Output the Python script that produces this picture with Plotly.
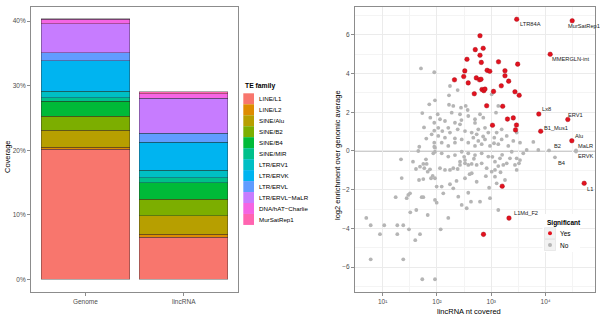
import math
import plotly.graph_objects as go

W, H = 600, 319
FONT = "Liberation Sans, Arial, Helvetica, sans-serif"

# ---------------- Left panel data: stacked coverage (%) ----------------
samples = ["Genome", "lincRNA"]
te_families = ["LINE/L1", "LINE/L2", "SINE/Alu", "SINE/B2", "SINE/B4", "SINE/MIR",
               "LTR/ERV1", "LTR/ERVK", "LTR/ERVL", "LTR/ERVL\u2212MaLR",
               "DNA/hAT\u2212Charlie", "MurSatRep1"]
te_colors = ["#F8766D", "#DE8C00", "#B79F00", "#7CAE00", "#00BA38", "#00C08B",
             "#00BFC4", "#00B4F0", "#619CFF", "#C77CFF", "#F564E3", "#FF64B0"]
genome_cov = [20.13, 0.36, 2.59, 2.22, 2.33, 0.47, 1.08, 4.66, 1.30, 4.50, 0.65, 0.12]
lincrna_cov = [6.52, 0.47, 2.89, 2.54, 2.53, 0.78, 1.19, 4.35, 1.39, 5.39, 0.67, 0.31]
cov_ticks = [0, 10, 20, 30, 40]
cov_ticktext = ["0%", "10%", "20%", "30%", "40%"]

# ---------------- Right panel data: log10(nt covered), log2 enrichment ----------------
sig_log10_nt = [2.792, 2.705, 2.851, 2.792, 2.552, 2.816, 3.133, 3.486, 2.512, 2.924,
                2.972, 3.252, 2.492, 2.724, 2.783, 2.810, 3.252, 2.575, 2.322, 3.320,
                3.184, 2.829, 2.862, 2.884, 3.041, 2.687, 3.436, 3.514, 2.915, 3.210,
                3.298, 3.405, 3.022, 3.464, 3.446, 3.201, 2.856]
sig_log2_enr = [5.96, 5.24, 5.31, 4.95, 4.74, 4.58, 4.61, 4.49, 4.14, 4.17,
                4.12, 4.15, 3.85, 3.78, 3.68, 3.71, 3.89, 3.52, 3.68, 3.61,
                3.37, 3.18, 3.12, 3.20, 3.08, 2.96, 3.06, 2.88, 2.34, 2.31,
                1.65, 1.71, 1.33, 1.34, 1.09, -1.82, -4.31]

ns_log10_nt = [1.705, 1.950, 1.858, 1.963, 1.729, 1.877, 1.950, 1.761, 1.950, 1.902,
               1.803, 1.950, 1.674, 1.950, 1.656, 2.239, 2.221, 2.381, 2.221, 2.300,
               2.442, 2.529, 2.565, 3.007, 3.129, 3.087, 2.792, 2.853, 2.700, 2.576,
               2.013, 2.055, 2.147, 2.331, 2.424, 2.381, 2.208, 2.098, 2.024, 2.147,
               2.239, 2.516, 2.639, 2.731, 2.761, 2.884, 2.945, 3.099, 3.191, 3.284,
               3.191, 3.055, 2.884, 2.761, 2.669, 2.576, 2.455, 2.331, 2.208, 2.087,
               1.963, 2.700, 2.823, 2.976, 3.129, 3.313, 3.405, 2.024, 2.424, 2.271,
               3.529, 3.774, 3.468, 1.963, 2.087, 2.208, 2.331, 2.455, 2.576, 2.700,
               2.823, 2.945, 3.068, 3.160, 3.344, 3.376, 2.424, 2.516, 2.055, 2.147,
               2.239, 2.300, 2.381, 2.424, 2.516, 2.576, 2.639, 2.731, 2.823, 2.915,
               3.068, 3.129, 3.221, 3.284, 1.963, 1.994, 2.087, 2.300, 2.516, 2.731,
               2.116, 2.239, 2.392, 2.455, 2.547, 2.626, 2.792, 2.976, 3.129, 2.576,
               3.007, 3.068, 3.252, 3.099, 1.963, 1.994, 2.068, 2.208, 1.963, 1.729,
               3.436, 3.468, 3.510, 3.529, 3.468, 3.589, 3.652, 3.866, 0.698, 0.779,
               1.029, 1.269, 1.379, 0.950, 1.269, 1.484, 1.600, 1.687, 0.779, 1.379,
               1.350, 1.337, 1.239, 1.442, 1.471, 1.503, 1.718, 1.748, 1.508, 1.619,
               1.829, 1.669, 1.748, 1.558, 1.613, 1.687, 1.748, 1.797, 1.766, 1.829,
               1.871, 1.921, 1.890, 1.932, 1.810,
               2.60, 2.68, 2.90, 3.02, 3.17, 2.36, 2.50, 2.64, 2.96, 3.20,
               2.33, 2.85, 3.05, 2.45, 2.70]
ns_log2_enr = [4.27, 4.07, 2.41, 2.62, 1.96, 1.72, 1.46, 1.22, 1.05, 0.86,
               0.64, 0.43, 0.22, 0.22, 0.00, 3.36, 2.88, 3.15, 2.39, 2.33,
               2.24, 2.33, 2.12, 2.93, 2.33, 1.98, 1.90, 1.72, 1.64, 1.81,
               1.90, 1.64, 1.55, 1.46, 1.38, 1.12, 1.20, 1.03, 0.78, 0.69,
               0.95, 1.03, 0.95, 0.86, 1.12, 1.20, 0.95, 0.95, 1.12, 0.78,
               0.60, 0.69, 0.60, 0.52, 0.69, 0.43, 0.60, 0.43, 0.26, 0.43,
               0.17, 0.26, 0.35, 0.26, 0.35, 0.26, 0.52, 1.20, 1.90, 1.98,
               0.43, 0.47, 0.95, -0.04, -0.12, -0.29, -0.21, -0.04, -0.12, -0.21,
               -0.12, -0.29, -0.55, -0.38, -0.38, -0.04, -0.55, -0.47, -0.89, -0.98,
               -0.98, -0.89, -0.93, -0.72, -0.64, -0.72, -0.67, -0.72, -0.64, -0.89,
               -0.98, -0.78, -0.72, -0.64, -1.41, -1.84, -1.84, -1.93, -1.41, -1.59,
               -2.19, -1.72, -2.36, -2.79, -2.96, -2.62, -2.62, -2.44, -3.05, -2.16,
               -1.07, -1.33, -1.50, -1.67, -2.53, -2.67, -4.05, -3.46, -6.63, -6.63,
               -0.72, -0.98, -0.64, -0.47, -0.38, -0.12, 0.05, 0.05, -3.46, -3.84,
               -3.84, -3.84, -3.84, -4.30, -4.30, -4.05, -4.61, -4.30, -5.60, -5.60,
               -1.40, -0.43, -2.39, -2.44, -2.27, -2.19, -2.39, -2.39, -3.17, -3.05,
               -3.31, -1.50, -1.45, -0.55, -0.93, -0.81, -0.67, -0.43, -0.89, -1.07,
               -0.95, -1.29, -1.41, -0.12, -0.67,
               -1.20, -0.40, -1.30, -0.30, -1.10, -1.55, -0.30, -1.15, -1.90, -0.20,
               0.65, 0.75, 0.40, 1.60, 1.45]

lab_names = ["LTR84A", "MurSatRep1", "MMERGLN-int", "Lx8", "ERV1", "B1_Mus1", "Alu",
             "L1Md_F2", "L1", "B4", "B2", "MaLR", "ERVK"]
lab_log10_nt = [3.468, 4.490, 4.085, 3.875, 4.409, 3.910, 4.483, 3.326, 4.711, 4.173,
                4.063, 4.560, 4.560]
lab_log2_enr = [6.81, 6.73, 5.00, 1.91, 1.63, 1.02, 0.53, -3.47, -1.67, -0.33,
                0.03, 0.03, -0.03]
lab_significant = [True, True, True, True, True, True, True, True, True, False,
                   False, False, False]
# label offsets in pixels (style): (xshift, yshift)
lab_offsets = [(1.3, -5), (-6.6, -5), (0, -5), (1.2, 5), (-1.8, 4.8), (1.3, 3.2),
               (1.2, 4.8), (2.7, 4.9), (1.0, -5.7), (1, -5.4), (2.7, 4.8), (0.3, 4.8), (0.3, -4.5)]

# ---------------- geometry helpers ----------------
def px(xp):
    return xp / W

def py(yp):
    return 1 - yp / H

TOP, BOT = 6.5, 292.0
ydom = [py(BOT), py(TOP)]

fig = go.Figure()

# stacked bars
for name, col, g, l in zip(te_families, te_colors, genome_cov, lincrna_cov):
    fig.add_trace(go.Bar(
        x=[0, 1], y=[g, l], name=name, width=0.9,
        marker=dict(color=col, line=dict(color="rgba(40,40,40,0.75)", width=0.5)),
        xaxis="x", yaxis="y", showlegend=False, hoverinfo="skip"))

# scatter: non-significant first, then significant
gx = [10 ** v for v in ns_log10_nt] + [10 ** v for v, s in zip(lab_log10_nt, lab_significant) if not s]
gy = ns_log2_enr + [v for v, s in zip(lab_log2_enr, lab_significant) if not s]
rx = [10 ** v for v in sig_log10_nt] + [10 ** v for v, s in zip(lab_log10_nt, lab_significant) if s]
ry = sig_log2_enr + [v for v, s in zip(lab_log2_enr, lab_significant) if s]

fig.add_trace(go.Scatter(x=gx, y=gy, mode="markers", xaxis="x2", yaxis="y2",
                         marker=dict(color="#B5B5B5", size=3.8, line=dict(width=0)),
                         showlegend=False, name="No"))
fig.add_trace(go.Scatter(x=rx, y=ry, mode="markers", xaxis="x2", yaxis="y2",
                         marker=dict(color="#E3121F", size=4.6,
                                     line=dict(color="#A00A14", width=0.4)),
                         showlegend=False, name="Yes"))

annotations = []
for n, xv, yv, (dx, dy) in zip(lab_names, lab_log10_nt, lab_log2_enr, lab_offsets):
    annotations.append(dict(x=xv, y=yv, xref="x2", yref="y2", text=n, showarrow=False,
                            xanchor="left", yanchor="middle", xshift=dx, yshift=dy,
                            font=dict(family=FONT, size=5.7, color="#1a1a1a")))

# axis titles
title_font = dict(family=FONT, size=7.5, color="#000")
annotations.append(dict(x=px(7), y=py(157), xref="paper", yref="paper", text="Coverage",
                        textangle=-90, showarrow=False, xanchor="center", yanchor="middle",
                        font=title_font))
annotations.append(dict(x=px(337), y=py(155), xref="paper", yref="paper",
                        text="log2 enrichment over genomic average", textangle=-90,
                        showarrow=False, xanchor="center", yanchor="middle", font=title_font))
annotations.append(dict(x=px(469), y=py(311), xref="paper", yref="paper",
                        text="lincRNA nt covered", showarrow=False,
                        xanchor="center", yanchor="middle", font=title_font))

shapes = []
# zero line on the scatter
shapes.append(dict(type="line", xref="x2 domain", yref="y2", x0=0, x1=1, y0=0, y1=0,
                   line=dict(color="#808080", width=0.8), layer="below"))

# TE family legend (manual, compact ggplot-like)
key_h = 10.97
key_top0 = 93.3
annotations.append(dict(x=px(243), y=py(85.5), xref="paper", yref="paper", text="<b>TE family</b>",
                        showarrow=False, xanchor="left", yanchor="middle",
                        font=dict(family=FONT, size=6.8, color="#000")))
for i, (name, col) in enumerate(zip(te_families, te_colors)):
    t = key_top0 + i * key_h
    shapes.append(dict(type="rect", xref="paper", yref="paper", x0=px(243.3), x1=px(254),
                       y0=py(t + key_h), y1=py(t), fillcolor=col, line=dict(width=0)))
    annotations.append(dict(x=px(257), y=py(t + key_h / 2), xref="paper", yref="paper", text=name,
                            showarrow=False, xanchor="left", yanchor="middle",
                            font=dict(family=FONT, size=6.2, color="#000")))

# Significant legend (manual)
shapes.append(dict(type="rect", xref="paper", yref="paper", x0=px(542.5), x1=px(580),
                   y0=py(252), y1=py(214), fillcolor="white", line=dict(width=0), layer="above"))
annotations.append(dict(x=px(544.5), y=py(222.7), xref="paper", yref="paper", text="<b>Significant</b>",
                        showarrow=False, xanchor="left", yanchor="middle",
                        font=dict(family=FONT, size=6.5, color="#000")))
for lab, cy, col in [("Yes", 233.3, "#E3121F"), ("No", 245.0, "#B5B5B5")]:
    shapes.append(dict(type="rect", xref="paper", yref="paper", x0=px(544.5), x1=px(555.5),
                       y0=py(cy + 5.5), y1=py(cy - 5.5), fillcolor="#F2F2F2",
                       line=dict(color="#DDDDDD", width=0.6), layer="above"))
    shapes.append(dict(type="circle", xref="paper", yref="paper", x0=px(548), x1=px(552),
                       y0=py(cy + 2), y1=py(cy - 2), fillcolor=col,
                       line=dict(width=0), layer="above"))
    annotations.append(dict(x=px(558), y=py(cy), xref="paper", yref="paper", text=lab,
                            showarrow=False, xanchor="left", yanchor="middle",
                            font=dict(family=FONT, size=6.5, color="#000")))

tickfont = dict(family=FONT, size=6.5, color="#4D4D4D")
axline = dict(showline=True, mirror=True, linecolor="#8C8C8C", linewidth=1,
              ticks="outside", ticklen=3, tickcolor="#8C8C8C", tickwidth=0.8,
              tickfont=tickfont, zeroline=False, automargin=False)

fig.update_layout(
    width=W, height=H, margin=dict(l=0, r=0, t=0, b=0),
    paper_bgcolor="white", plot_bgcolor="white",
    barmode="stack", showlegend=False,
    font=dict(family=FONT),
    xaxis=dict(domain=[px(31), px(238)], range=[-0.553, 1.552], tickvals=[0, 1],
               ticktext=samples, showgrid=False, anchor="y", **axline),
    yaxis=dict(domain=ydom, range=[-1.97, 42.28], tickvals=cov_ticks, ticktext=cov_ticktext,
               showgrid=False, anchor="x", **axline),
    xaxis2=dict(domain=[px(355), px(595)], type="log", range=[0.49, 4.91],
                tickvals=[10, 100, 1000, 10000],
                ticktext=["10\u00b9", "10\u00b2", "10\u00b3", "10\u2074"],
                showgrid=True, gridcolor="#EBEBEB", gridwidth=0.8, anchor="y2",
                minor=dict(tickvals=[10 ** 0.5, 10 ** 1.5, 10 ** 2.5, 10 ** 3.5, 10 ** 4.5],
                           showgrid=True, gridcolor="#F4F4F4", gridwidth=0.6, ticks=""),
                **axline),
    yaxis2=dict(domain=ydom, range=[-7.29, 7.47], tickvals=[-6, -4, -2, 0, 2, 4, 6],
                showgrid=True, gridcolor="#EBEBEB", gridwidth=0.8, anchor="x2",
                minor=dict(tickvals=[-7, -5, -3, -1, 1, 3, 5, 7], showgrid=True,
                           gridcolor="#F4F4F4", gridwidth=0.6, ticks=""),
                **axline),
    annotations=annotations, shapes=shapes,
)

fig.write_html("out.html", config={"displayModeBar": False},
               post_script="document.body.style.margin='0';document.body.style.padding='0';")
